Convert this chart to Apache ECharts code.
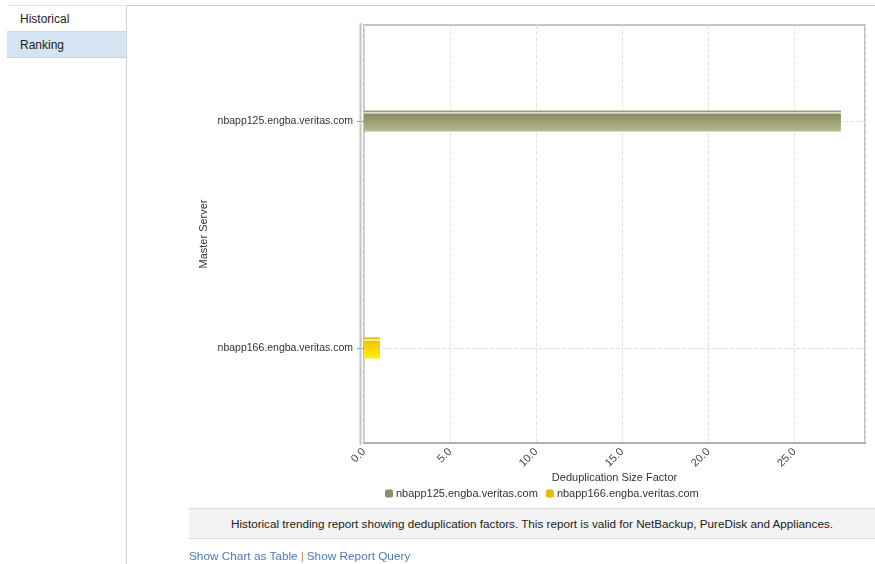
<!DOCTYPE html>
<html>
<head>
<meta charset="utf-8">
<script src="https://cdn.jsdelivr.net/npm/echarts@6/dist/echarts.min.js"></script>
<style>
html,body{margin:0;padding:0;width:875px;height:564px;background:#fff;overflow:hidden;font-family:"Liberation Sans",Arial,sans-serif;}
#topline{position:absolute;left:127px;top:5px;width:748px;height:1px;background:#c9ced4;}
#leftpanel{position:absolute;left:7px;top:5px;width:119px;height:560px;border-right:1px solid #cfd3d8;background:#fff;}
.tab{position:absolute;left:0;width:119px;height:25px;font-size:12px;color:#222;line-height:27px;text-indent:13px;}
#t1{top:0;background:#fff;border-bottom:1px solid #d6dade;border-top:1px solid #e2e4e6;}
#t2{top:27px;background:#d4e4f3;border-bottom:1px solid #c5d4e2;}
#chart{position:absolute;left:0;top:0;width:875px;height:564px;}
#desc{position:absolute;left:189px;top:508px;width:686px;height:29px;background:#f3f3f3;border-top:1px solid #dcdcdc;border-bottom:1px solid #dcdcdc;font-size:11.7px;color:#222;text-align:center;line-height:29px;}
#links{position:absolute;left:189px;top:548px;font-size:11.8px;color:#4a7bbd;line-height:16px;}
#links .sep{color:#c8843a;margin:0 3px;}
</style>
</head>
<body>
<div id="topline"></div>
<div id="leftpanel">
  <div class="tab" id="t1">Historical</div>
  <div class="tab" id="t2">Ranking</div>
</div>
<div id="chart"></div>
<div id="desc">Historical trending report showing deduplication factors. This report is valid for NetBackup, PureDisk and Appliances.</div>
<div id="links">Show Chart as Table<span class="sep">|</span>Show Report Query</div>
<script>
// data
const categories = ['nbapp125.engba.veritas.com', 'nbapp166.engba.veritas.com'];
const seriesNames = ['nbapp125.engba.veritas.com', 'nbapp166.engba.veritas.com'];
const values125 = [27.7, null];
const values166 = [null, 0.93];
const xTicks = [0, 5, 10, 15, 20, 25];
const xMax = 29.1;
const xInterval = 5;
const axisTitleX = 'Deduplication Size Factor';
const axisTitleY = 'Master Server';

const chart = echarts.init(document.getElementById('chart'), null, {renderer: 'canvas'});
const olive = new echarts.graphic.LinearGradient(0,0,0,1,[
  {offset:0, color:'#9a9c78'},{offset:0.06, color:'#9a9c78'},
  {offset:0.07, color:'#dcddc8'},{offset:0.14, color:'#dcddc8'},
  {offset:0.15, color:'#878a5f'},{offset:1, color:'#b7b98e'}]);
const yellow = new echarts.graphic.LinearGradient(0,0,0,1,[
  {offset:0, color:'#e2b400'},{offset:0.06, color:'#e2b400'},
  {offset:0.07, color:'#fff2a8'},{offset:0.14, color:'#fff2a8'},
  {offset:0.15, color:'#efc300'},{offset:1, color:'#fff200'}]);

const option = {
  animation: false,
  textStyle: {fontFamily: '"Liberation Sans", Arial, sans-serif'},
  legend: {
    left: 380, top: 483, itemWidth: 8, itemHeight: 8, itemGap: 8,
    textStyle: {fontSize: 11, color: '#333', padding:[0,0,0,-2]},
    data: [{name: seriesNames[0], itemStyle:{color:'#8c8e68'}}, {name: seriesNames[1], itemStyle:{color:'#e8bc00'}}]
  },
  grid: [
    {left: 364, right: 10, top: 25, bottom: 121, show: true, borderColor: '#c4c4c4', borderWidth: 2, backgroundColor: 'transparent'},
    {left: 364, right: 10, top: 7.5, bottom: 102.5, show: false}
  ],
  xAxis: [
    {gridIndex: 0, type: 'value', min: 0, max: xMax, interval: xInterval,
     axisLine: {show: true, lineStyle: {color: '#b0b0b0', width: 2}},
     axisTick: {show: false},
     axisLabel: {rotate: 45, fontSize: 11, color: '#444', margin: 7, showMaxLabel: false,
       formatter: v => xTicks.indexOf(v) >= 0 ? v.toFixed(1) : ''},
     splitLine: {show: true, lineStyle: {color: '#e2e2e2', type: 'dashed', width: 1}},
     name: axisTitleX, nameLocation: 'middle', nameGap: 29, nameMoveOverlap: false,
     nameTextStyle: {fontSize: 11, color: '#333'}},
    {gridIndex: 1, type: 'value', min: 0, max: xMax, show: false}
  ],
  yAxis: [
    {gridIndex: 0, type: 'value', min: 0, max: 1,
     axisLine: {show: false}, axisTick: {show: false}, axisLabel: {show: false}, splitLine: {show: false},
     name: axisTitleY, nameLocation: 'middle', nameGap: 155, nameRotate: 90, nameMoveOverlap: false,
     nameTextStyle: {fontSize: 11, color: '#333'}},
    {gridIndex: 1, type: 'category', data: categories, inverse: true,
     axisLine: {show: false},
     axisTick: {show: true, alignWithLabel: true, length: 7, lineStyle: {color: '#999'}},
     axisLabel: {fontSize: 10.5, color: '#333', margin: 11},
     splitLine: {show: false}}
  ],
  series: [
    {type: 'line', xAxisIndex: 1, yAxisIndex: 1, data: [], silent: true, z: 1,
     markLine: {silent: true, symbol: 'none', z: 1, label: {show: false},
       lineStyle: {color: '#e2e2e2', type: 'dashed', width: 1},
       data: categories.map(c => ({yAxis: c}))}},
    {name: seriesNames[0], type: 'bar', xAxisIndex: 1, yAxisIndex: 1, stack: 's', barWidth: 21, z: 3,
     data: values125, itemStyle: {color: olive}},
    {name: seriesNames[1], type: 'bar', xAxisIndex: 1, yAxisIndex: 1, stack: 's', barWidth: 21, z: 3,
     data: values166, itemStyle: {color: yellow}}
  ],
  graphic: [
    {type: 'line', shape: {x1: 360.5, y1: 23, x2: 360.5, y2: 445}, style: {stroke: '#c4c4c4', lineWidth: 2}, z: 10}
  ]
};
chart.setOption(option);
</script>
</body>
</html>
